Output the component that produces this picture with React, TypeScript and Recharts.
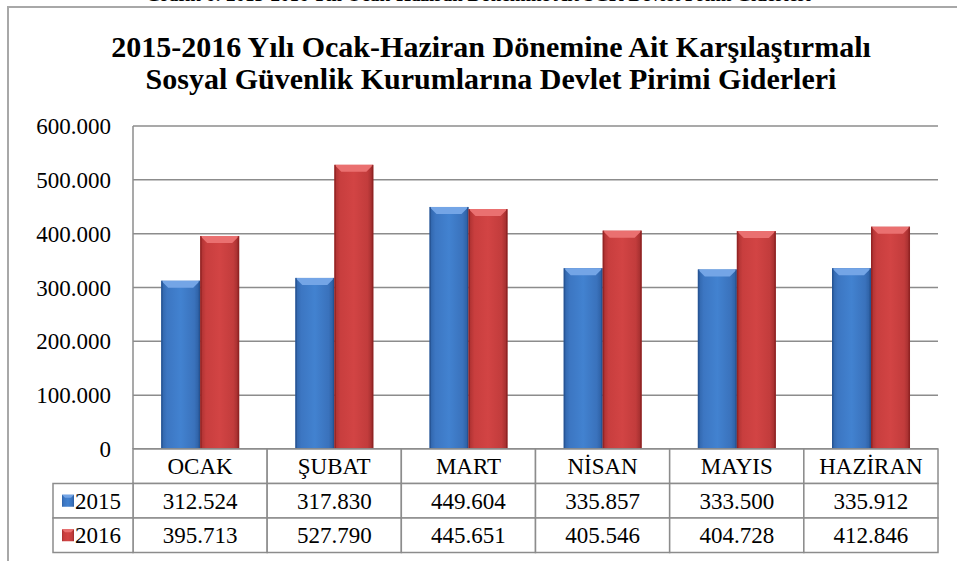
import React from 'react'
import { BarChart, Bar, XAxis, YAxis, CartesianGrid } from 'recharts'

const months = ['OCAK', 'ŞUBAT', 'MART', 'NİSAN', 'MAYIS', 'HAZİRAN']
const values2015 = [312524, 317830, 449604, 335857, 333500, 335912]
const values2016 = [395713, 527790, 445651, 405546, 404728, 412846]
const yTicks = [0, 100000, 200000, 300000, 400000, 500000, 600000]

const data = months.map((m, i) => ({ month: m, y2015: values2015[i], y2016: values2016[i] }))

const W = 957
const H = 561
const margin = { top: 126, right: 19, bottom: 0, left: 0 }
const xAxisHeight = 112
const yAxisWidth = 133
const font = "'Liberation Serif', 'Times New Roman', Times, serif"
const gridColor = '#8c8c8c'
const rowH = 34.5
const fs = 23

const fmt = (n: number) => n.toString().replace(/\B(?=(\d{3})+(?!\d))/g, '.')

const palette: Record<string, { light: string; edge: string }> = {
  blue: { light: '#74a5e6', edge: '#244f8c' },
  red: { light: '#ea7070', edge: '#8a2020' },
}

// bevelled 3D-ish bar like the office chart
const BevelBar = (props: any) => {
  const { x, y, width, height, kind } = props
  if (!height || height <= 0) return null
  const b = Math.min(7, width / 4)
  const p = palette[kind]
  return (
    <g>
      <rect x={x} y={y} width={width} height={height} fill={`url(#grad-${kind})`} />
      <polygon
        points={`${x},${y} ${x + width},${y} ${x + width - b},${y + b} ${x + b},${y + b}`}
        fill={p.light}
      />
      <rect x={x} y={y} width={1.5} height={height} fill={p.edge} opacity={0.7} />
      <rect x={x + width - 1.5} y={y} width={1.5} height={height} fill={p.edge} opacity={0.7} />
    </g>
  )
}

const plotW = W - margin.right - yAxisWidth - margin.left
const cellW = plotW / months.length
const legendW = 80

const T = (props: any) => (
  <text className="serif-txt" fontSize={fs} fill="#000" dy="0.35em" {...props} />
)

const TableTick = (props: any) => {
  const { x, y, payload, index } = props
  const i = index ?? months.indexOf(payload.value)
  const left = x - cellW / 2
  const rows = [payload.value, fmt(values2015[i]), fmt(values2016[i])]
  return (
    <g>
      {rows.map((t, r) => (
        <g key={r}>
          <rect
            x={left}
            y={y + r * rowH}
            width={cellW}
            height={rowH}
            fill="#fff"
            stroke={gridColor}
            strokeWidth={1.5}
          />
          <T x={x} y={y + r * rowH + rowH / 2} textAnchor="middle">
            {t}
          </T>
        </g>
      ))}
      {i === 0 &&
        [
          { label: '2015', kind: 'blue' },
          { label: '2016', kind: 'red' },
        ].map((s, r) => {
          const cy = y + (r + 1) * rowH + rowH / 2
          const sx = left - legendW + 9
          return (
            <g key={s.label}>
              <rect
                x={left - legendW}
                y={y + (r + 1) * rowH}
                width={legendW}
                height={rowH}
                fill="#fff"
                stroke={gridColor}
                strokeWidth={1.5}
              />
              <rect x={sx} y={cy - 6} width={12} height={12} fill={`url(#grad-${s.kind})`} />
              <polygon
                points={`${sx},${cy - 6} ${sx + 12},${cy - 6} ${sx + 9},${cy - 3} ${sx + 3},${cy - 3}`}
                fill={palette[s.kind].light}
              />
              <T x={sx + 13} y={cy}>
                {s.label}
              </T>
            </g>
          )
        })}
    </g>
  )
}

const YTick = (props: any) => {
  const { x, y, payload } = props
  return (
    <T x={x} y={y} textAnchor="end">
      {fmt(payload.value)}
    </T>
  )
}

const css = `
.recharts-wrapper svg text, .serif-txt { font-family: ${font} !important; }
`

export default function App() {
  return (
    <div
      style={{
        position: 'fixed',
        left: 0,
        top: 0,
        width: W,
        height: H,
        background: '#fff',
        overflow: 'hidden',
        fontFamily: font,
      }}
    >
      <style>{css}</style>
      <div
        style={{
          position: 'absolute',
          left: 0,
          width: W,
          top: -15,
          textAlign: 'center',
          fontWeight: 'bold',
          fontSize: 19,
          lineHeight: '20px',
          whiteSpace: 'nowrap',
        }}
      >
        Grafik 6: 2015-2016 Yılı Ocak-Haziran Dönemine Ait SGK Devlet Primi Giderleri
      </div>
      <div
        style={{
          position: 'absolute',
          left: 7,
          top: 6,
          width: W,
          height: H,
          borderTop: '2px solid #a8a8a8',
          borderLeft: '2px solid #a8a8a8',
        }}
      />
      <div
        style={{
          position: 'absolute',
          left: 0,
          width: 982,
          top: 31,
          textAlign: 'center',
          fontWeight: 'bold',
          fontSize: 30,
          lineHeight: '32px',
          color: '#000',
          whiteSpace: 'nowrap',
        }}
      >
        2015-2016 Yılı Ocak-Haziran Dönemine Ait Karşılaştırmalı
        <br />
        Sosyal Güvenlik Kurumlarına Devlet Pirimi Giderleri
      </div>
      <div style={{ position: 'absolute', left: 0, top: 0 }}>
        <BarChart
          width={W}
          height={H}
          data={data}
          margin={margin}
          barCategoryGap="21%"
          barGap={0}
        >
          <defs>
            <linearGradient id="grad-blue" x1="0" y1="0" x2="1" y2="0">
              <stop offset="0%" stopColor="#2f63a8" />
              <stop offset="15%" stopColor="#3c76c2" />
              <stop offset="50%" stopColor="#4282d0" />
              <stop offset="85%" stopColor="#3a72bc" />
              <stop offset="100%" stopColor="#2b5c9e" />
            </linearGradient>
            <linearGradient id="grad-red" x1="0" y1="0" x2="1" y2="0">
              <stop offset="0%" stopColor="#a93030" />
              <stop offset="15%" stopColor="#c83e3e" />
              <stop offset="50%" stopColor="#d24444" />
              <stop offset="85%" stopColor="#c23c3c" />
              <stop offset="100%" stopColor="#9c2c2c" />
            </linearGradient>
          </defs>
          <CartesianGrid vertical={false} stroke={gridColor} strokeWidth={1.5} />
          <XAxis
            dataKey="month"
            interval={0}
            tickLine={false}
            tickSize={0}
            tickMargin={0}
            height={xAxisHeight}
            axisLine={{ stroke: gridColor, strokeWidth: 1.5 }}
            tick={<TableTick />}
          />
          <YAxis
            width={yAxisWidth}
            domain={[0, 600000]}
            ticks={yTicks}
            interval={0}
            tickLine={false}
            tickSize={0}
            tickMargin={22}
            axisLine={{ stroke: gridColor, strokeWidth: 1.5 }}
            tick={<YTick />}
          />
          <Bar dataKey="y2015" isAnimationActive={false} shape={(p: any) => <BevelBar {...p} kind="blue" />} />
          <Bar dataKey="y2016" isAnimationActive={false} shape={(p: any) => <BevelBar {...p} kind="red" />} />
        </BarChart>
      </div>
    </div>
  )
}
